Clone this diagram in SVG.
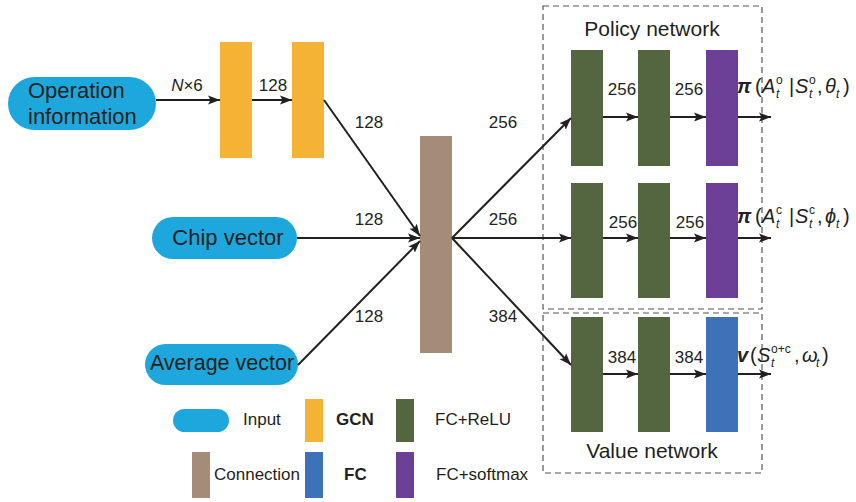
<svg xmlns="http://www.w3.org/2000/svg" width="856" height="502" viewBox="0 0 856 502">
<defs>
<marker id="ah" markerWidth="13" markerHeight="10" refX="12" refY="5" orient="auto" markerUnits="userSpaceOnUse">
<path d="M0,0.5 L12,5 L0,9.5 L2.5,5 Z" fill="#231F20"/>
</marker>
</defs>
<style>
text{font-family:"Liberation Sans",Arial,sans-serif;fill:#231F20}
.pill{fill:#1EA7DD}
.gcn{fill:#F4B335}
.relu{fill:#53663F}
.soft{fill:#6B4096}
.fc{fill:#3E72B8}
.conn{fill:#A58C79}
.lbl{font-size:17px}
.node{font-size:22px}
.title{font-size:21px}
.leg{font-size:17px}
.edge{stroke:#231F20;stroke-width:2;fill:none;marker-end:url(#ah)}
.box{fill:none;stroke:#555;stroke-width:1.2;stroke-dasharray:6,4}
.it{font-style:italic}
.sm{font-size:12px}
.m{font-size:20px}
.bi{font-size:20px;font-weight:bold;font-style:italic}
</style>
<rect width="856" height="502" fill="#fff"/>

<g id="policy-box"><rect class="box" x="543" y="6" width="219" height="303"/>
<text class="title" x="652" y="36" text-anchor="middle">Policy network</text></g>
<g id="value-box"><rect class="box" x="543" y="313" width="219" height="160"/>
<text class="title" x="652" y="458" text-anchor="middle">Value network</text></g>

<g id="op-info"><rect class="pill" x="8" y="77" width="148" height="53" rx="26.5"/>
<text class="node" x="28" y="98">Operation</text>
<text class="node" x="28" y="124">information</text></g>
<g id="chip"><rect class="pill" x="152" y="217" width="145" height="42" rx="21"/>
<text class="node" x="228" y="245" text-anchor="middle">Chip vector</text></g>
<g id="avg"><rect class="pill" x="145" y="344" width="153" height="41" rx="20.5"/>
<text class="node" x="222" y="370" text-anchor="middle" style="font-size:21.5px">Average vector</text></g>

<g id="gcn1"><rect class="gcn" x="220" y="42" width="32" height="116"/></g>
<g id="gcn2"><rect class="gcn" x="292" y="42" width="32" height="116"/></g>
<g id="connection"><rect class="conn" x="420" y="136" width="32" height="217"/></g>

<g id="p1a"><rect class="relu" x="571" y="50" width="32" height="116"/></g>
<g id="p1b"><rect class="relu" x="638" y="50" width="32" height="116"/></g>
<g id="p1c"><rect class="soft" x="706" y="50" width="32" height="116"/></g>
<g id="p2a"><rect class="relu" x="571" y="183" width="32" height="115"/></g>
<g id="p2b"><rect class="relu" x="638" y="183" width="32" height="115"/></g>
<g id="p2c"><rect class="soft" x="706" y="183" width="32" height="115"/></g>
<g id="v1"><rect class="relu" x="571" y="317" width="32" height="115"/></g>
<g id="v2"><rect class="relu" x="638" y="317" width="32" height="115"/></g>
<g id="v3"><rect class="fc" x="706" y="317" width="32" height="115"/></g>

<g id="connectors">
<path class="edge" d="M156,100 L220,100"/>
<path class="edge" d="M252,100 L292,100"/>
<path class="edge" d="M324,100 L420,236"/>
<path class="edge" d="M297,238 L420,238"/>
<path class="edge" d="M298,365 L420,241"/>
<path class="edge" d="M452,238 L571,118"/>
<path class="edge" d="M452,238 L571,238"/>
<path class="edge" d="M452,238 L571,365"/>
<path class="edge" d="M603,117 L638,117"/>
<path class="edge" d="M670,117 L706,117"/>
<path class="edge" d="M738,117 L771,117"/>
<path class="edge" d="M603,238 L638,238"/>
<path class="edge" d="M670,238 L706,238"/>
<path class="edge" d="M738,238 L771,238"/>
<path class="edge" d="M603,374 L638,374"/>
<path class="edge" d="M670,374 L706,374"/>
<path class="edge" d="M738,374 L771,374"/>
</g>

<g id="edge-labels">
<text class="lbl" x="187" y="91" text-anchor="middle"><tspan class="it">N</tspan>×6</text>
<text class="lbl" x="273" y="91" text-anchor="middle">128</text>
<text class="lbl" x="369" y="128" text-anchor="middle">128</text>
<text class="lbl" x="369" y="225" text-anchor="middle">128</text>
<text class="lbl" x="369" y="322" text-anchor="middle">128</text>
<text class="lbl" x="503" y="128" text-anchor="middle">256</text>
<text class="lbl" x="503" y="225" text-anchor="middle">256</text>
<text class="lbl" x="503" y="322" text-anchor="middle">384</text>
<text class="lbl" x="622" y="95" text-anchor="middle">256</text>
<text class="lbl" x="689" y="95" text-anchor="middle">256</text>
<text class="lbl" x="623" y="228" text-anchor="middle">256</text>
<text class="lbl" x="690" y="228" text-anchor="middle">256</text>
<text class="lbl" x="622" y="363" text-anchor="middle">384</text>
<text class="lbl" x="689" y="363" text-anchor="middle">384</text>
</g>

<g id="out1">
<text class="bi" x="737" y="93">π</text>
<text class="m" x="755" y="93">(</text>
<text class="m it" x="762" y="93">A</text>
<text class="sm" x="776" y="84">o</text>
<text class="sm it" x="776" y="98">t</text>
<text class="m" x="789" y="93">|</text>
<text class="m it" x="795" y="93">S</text>
<text class="sm" x="809" y="84">o</text>
<text class="sm it" x="809" y="98">t</text>
<text class="m" x="817" y="93">,</text>
<text class="m it" x="825" y="93">θ</text>
<text class="sm it" x="836" y="98">t</text>
<text class="m" x="843" y="93">)</text>
</g>
<g id="out2">
<text class="bi" x="737" y="223">π</text>
<text class="m" x="755" y="223">(</text>
<text class="m it" x="762" y="223">A</text>
<text class="sm" x="776" y="214">c</text>
<text class="sm it" x="776" y="228">t</text>
<text class="m" x="789" y="223">|</text>
<text class="m it" x="795" y="223">S</text>
<text class="sm" x="809" y="214">c</text>
<text class="sm it" x="809" y="228">t</text>
<text class="m" x="817" y="223">,</text>
<text class="m it" x="825" y="223">ϕ</text>
<text class="sm it" x="836" y="228">t</text>
<text class="m" x="843" y="223">)</text>
</g>
<g id="out3">
<text class="bi" x="737" y="362">v</text>
<text class="m" x="750" y="362">(</text>
<text class="m it" x="757" y="362">S</text>
<text class="sm" x="771" y="353">o+c</text>
<text class="sm it" x="771" y="367">t</text>
<text class="m" x="794" y="362">,</text>
<text class="m it" x="802" y="362">ω</text>
<text class="sm it" x="816" y="367">t</text>
<text class="m" x="822" y="362">)</text>
</g>

<g id="legend">
<rect class="pill" x="173" y="409" width="56" height="23" rx="11.5"/>
<text class="leg" x="243" y="425">Input</text>
<rect class="gcn" x="305" y="399" width="18" height="43"/>
<text class="leg" x="336" y="425" style="font-weight:bold">GCN</text>
<rect class="relu" x="396" y="399" width="18" height="43"/>
<text class="leg" x="435" y="425">FC+ReLU</text>
<rect class="conn" x="192" y="452" width="18" height="46"/>
<text class="leg" x="214" y="480">Connection</text>
<rect class="fc" x="305" y="452" width="18" height="46"/>
<text class="leg" x="344" y="480" style="font-weight:bold">FC</text>
<rect class="soft" x="396" y="452" width="18" height="46"/>
<text class="leg" x="436" y="480">FC+softmax</text>
</g>
</svg>
